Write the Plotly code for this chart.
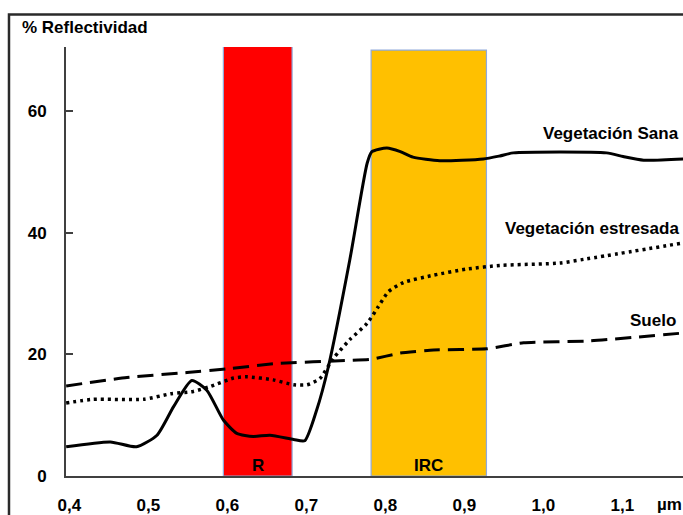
import plotly.graph_objects as go

# Wavelength (µm) and reflectance (%) for each surface type
sana_wl = [0.396, 0.452, 0.485, 0.511, 0.532, 0.555, 0.574, 0.595, 0.612, 0.633,
           0.654, 0.684, 0.698, 0.713, 0.728, 0.755, 0.777, 0.783, 0.802, 0.819,
           0.835, 0.869, 0.924, 0.945, 0.962, 1.080, 1.101, 1.127, 1.177]
sana_ref = [4.8, 5.6, 4.8, 6.7, 11.4, 15.7, 14.1, 9.2, 7.0, 6.5,
            6.7, 6.0, 5.8, 10.8, 18.0, 35.5, 51.4, 53.3, 53.9, 53.3,
            52.4, 51.8, 52.1, 52.6, 53.1, 53.1, 52.5, 51.9, 52.1]

estresada_wl = [0.396, 0.430, 0.494, 0.528, 0.557, 0.578, 0.608, 0.625, 0.658, 0.684,
                0.701, 0.717, 0.734, 0.755, 0.777, 0.791, 0.804, 0.823, 0.861, 0.903,
                0.945, 1.021, 1.051, 1.177]
estresada_ref = [12.0, 12.6, 12.6, 13.5, 13.9, 14.7, 16.1, 16.3, 15.8, 15.0,
                 15.0, 16.0, 19.3, 22.4, 25.1, 27.8, 30.3, 31.8, 33.0, 34.0,
                 34.6, 35.0, 35.6, 38.3]

suelo_wl = [0.396, 0.473, 0.549, 0.599, 0.663, 0.755, 0.783, 0.819, 0.861, 0.928,
            0.975, 1.059, 1.177]
suelo_ref = [14.8, 16.2, 17.0, 17.6, 18.5, 19.0, 19.2, 20.2, 20.7, 20.9,
             21.9, 22.2, 23.5]

# Spectral bands highlighted on the chart
band_names = ["R", "IRC"]
band_start = [0.595, 0.782]
band_end = [0.682, 0.928]
band_top = [70.6, 70.0]
band_colors = ["#FF0000", "#FFC000"]

x_ticks = [0.4, 0.5, 0.6, 0.7, 0.8, 0.9, 1.0, 1.1]
y_ticks = [0, 20, 40, 60]

FONT = "Liberation Sans, Arial, sans-serif"

fig = go.Figure()

fig.add_trace(go.Scatter(x=sana_wl, y=sana_ref, mode="lines", name="Vegetación Sana",
                         line=dict(color="black", width=3, shape="spline", smoothing=0.6)))
fig.add_trace(go.Scatter(x=estresada_wl, y=estresada_ref, mode="lines", name="Vegetación estresada",
                         line=dict(color="black", width=3.5, dash="3px,4px", shape="spline", smoothing=0.6)))
fig.add_trace(go.Scatter(x=suelo_wl, y=suelo_ref, mode="lines", name="Suelo",
                         line=dict(color="black", width=3, dash="16px,8px", shape="spline", smoothing=0.4)))

shapes = []
for name, x0, x1, top, col in zip(band_names, band_start, band_end, band_top, band_colors):
    shapes.append(dict(type="rect", xref="x", yref="y", x0=x0, x1=x1, y0=0, y1=top,
                       fillcolor=col, line=dict(color="#8FAADC", width=1.2), layer="below"))
# outer frame around the figure
shapes.append(dict(type="rect", xref="paper", yref="paper", x0=-0.0924, x1=1.3, y0=-0.4, y1=1.0758,
                   line=dict(color="#2a2a2a", width=2.5), fillcolor="rgba(0,0,0,0)", layer="above"))

annotations = []
for name, x0, x1 in zip(band_names, band_start, band_end):
    annotations.append(dict(text=name, x=(x0 + x1) / 2, xref="x", y=0, yref="y",
                            yanchor="bottom", xanchor="center", showarrow=False, yshift=-1,
                            font=dict(family=FONT, size=17, color="black", weight="bold")))

label_font = dict(family=FONT, size=17, color="black", weight="bold")
annotations += [
    dict(text="% Reflectividad", x=-0.0746, y=1.0443, xref="paper", yref="paper",
         xanchor="left", yanchor="middle", showarrow=False, font=label_font),
    dict(text="Vegetación Sana", x=0.9968, y=0.7995, xref="paper", yref="paper",
         xanchor="right", yanchor="middle", showarrow=False, font=label_font),
    dict(text="Vegetación estresada", x=0.9968, y=0.5780, xref="paper", yref="paper",
         xanchor="right", yanchor="middle", showarrow=False, font=label_font),
    dict(text="Suelo", x=0.992, y=0.3636, xref="paper", yref="paper",
         xanchor="right", yanchor="middle", showarrow=False, font=label_font),
    dict(text="µm", x=1.1, y=0, xref="x", yref="paper", xshift=47, yshift=-28,
         xanchor="center", yanchor="middle", showarrow=False, font=label_font),
]

fig.update_layout(
    width=683, height=515, autosize=False,
    margin=dict(l=66, r=0, t=47, b=39),
    paper_bgcolor="white", plot_bgcolor="white",
    separators=",.",
    showlegend=False,
    shapes=shapes, annotations=annotations,
    font=dict(family=FONT, size=17, color="black"),
    xaxis=dict(range=[0.3958, 1.1768], tickvals=x_ticks, tickformat=".1f",
               showgrid=False, zeroline=False, showline=True, linecolor="#404040", linewidth=2,
               ticks="", ticklabelstandoff=13,
               tickfont=dict(family=FONT, size=17, color="black", weight="bold")),
    yaxis=dict(range=[0, 70.5], tickvals=y_ticks,
               showgrid=False, zeroline=False, showline=True, linecolor="#404040", linewidth=2,
               ticks="inside", ticklen=7, tickwidth=1.5, tickcolor="#404040",
               ticklabelstandoff=14,
               tickfont=dict(family=FONT, size=17, color="black", weight="bold")),
)

fig.write_html("out.html")
